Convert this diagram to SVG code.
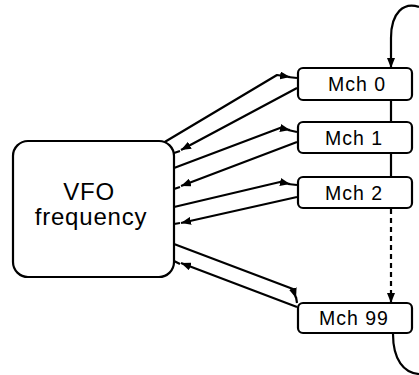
<svg xmlns="http://www.w3.org/2000/svg" width="419" height="375" viewBox="0 0 419 375">
<style>
.box{fill:#fff;stroke:#000;stroke-width:2.2}
.lbl{font-family:"Liberation Sans",Arial,sans-serif;fill:#000;text-anchor:middle}
.mch{font-size:19.5px;letter-spacing:1px}
.vfo{font-size:24px;letter-spacing:0.8px}
.con{fill:none;stroke:#000;stroke-width:2.2;stroke-linejoin:round}
.dash{stroke-dasharray:5,4}
</style>
<defs>
<marker id="ah" viewBox="0 0 10 8" refX="10" refY="4" markerWidth="10" markerHeight="8" markerUnits="userSpaceOnUse" orient="auto">
<path d="M0,0 L10,4 L0,8 Z" fill="#000"/>
</marker>
</defs>
<rect width="419" height="375" fill="#fff"/>
<g id="connectors">
<path class="con" d="M288,77 L297,78 M163,143 L277,75 L290,77" marker-end="url(#ah)"/>
<path class="con" d="M180,151 L174,153 M297,88 L181,150" marker-end="url(#ah)"/>
<path class="con" d="M288,130 L297,132 M174,168 L280,128 L290,130" marker-end="url(#ah)"/>
<path class="con" d="M180,187 L174,189 M297,142 L181,186" marker-end="url(#ah)"/>
<path class="con" d="M288,184 L297,185 M174,207 L280,182 L290,184" marker-end="url(#ah)"/>
<path class="con" d="M180,223 L174,224 M297,197 L181,223" marker-end="url(#ah)"/>
<path class="con" d="M296,297 L297,303 M174,244 L293,289 L296,298" marker-end="url(#ah)"/>
<path class="con" d="M180,264 L174,261 M297,307 L181,263" marker-end="url(#ah)"/>
<path class="con" d="M419,7 C404,2 391,12 391,38 L391,68" marker-end="url(#ah)"/>
<path class="con" d="M391,100 L391,122"/>
<path class="con" d="M391,153 L391,177"/>
<path class="con dash" d="M391,209 L391,303" marker-end="url(#ah)"/>
<path class="con" d="M393,334 C393,360 404,373 419,374"/>
</g>
<g id="vfo">
<rect class="box" x="13" y="141" width="161" height="136" rx="15"/>
<text class="lbl vfo" x="89" y="200">VFO</text>
<text class="lbl vfo" x="91" y="225">frequency</text>
</g>
<g id="mch0">
<rect class="box" x="298" y="68" width="114" height="32" rx="5"/>
<text class="lbl mch" x="357" y="91">Mch 0</text>
</g>
<g id="mch1">
<rect class="box" x="298" y="122" width="114" height="31" rx="5"/>
<text class="lbl mch" x="354" y="145">Mch 1</text>
</g>
<g id="mch2">
<rect class="box" x="298" y="177" width="114" height="31" rx="5"/>
<text class="lbl mch" x="354" y="200">Mch 2</text>
</g>
<g id="mch99">
<rect class="box" x="298" y="303" width="114" height="30" rx="5"/>
<text class="lbl mch" x="354" y="325">Mch 99</text>
</g>
</svg>
